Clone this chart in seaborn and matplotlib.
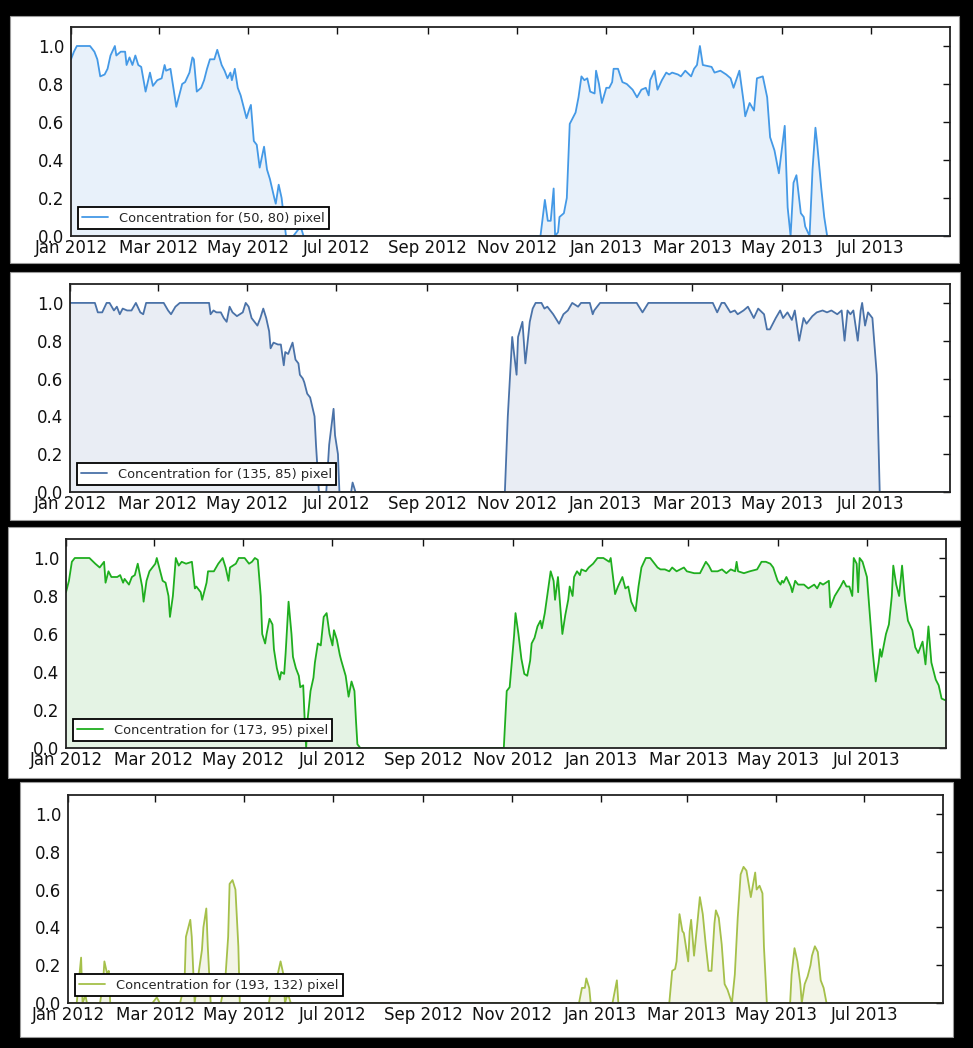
import pandas as pd
import matplotlib
matplotlib.use("Agg")
import matplotlib.pyplot as plt
import matplotlib.dates as mdates
from matplotlib.patches import Rectangle
import seaborn as sns

start = pd.Timestamp("2012-01-01")
end_day = 601

# days since 2012-01-01 and concentration
days_1 = [0, 2, 4, 13, 16, 18, 20, 23, 25, 27,
          30, 31, 34, 37, 38, 40, 42, 44, 46, 48,
          51, 54, 56, 59, 62, 64, 65, 68, 72, 76,
          78, 81, 83, 84, 86, 89, 91, 93, 95, 98,
          100, 103, 105, 107, 109, 110, 112, 114, 116, 118,
          120, 122, 123, 125, 127, 129, 132, 134, 136, 139,
          140, 142, 144, 147, 152, 157, 159,
          321, 324, 326,
          328, 330, 331, 333, 334, 337, 339, 341, 343, 345,
          347, 349, 351, 353, 355, 358, 359, 361, 363, 366,
          368, 370, 371, 374, 377, 380, 384, 387, 390, 393,
          395, 396, 399, 401, 404, 407, 409, 411, 415, 417,
          420, 424, 426, 428, 430, 432, 438, 440, 444, 448,
          451, 453, 457, 460, 461, 464, 467, 469, 473, 476,
          478, 481, 484, 488, 490, 492, 494, 496, 499, 501,
          502, 505, 507, 509, 510, 513, 515, 517, 601]
conc_1 = [0.93, 0.97, 1.0, 1.0, 0.97, 0.93, 0.84, 0.85, 0.88, 0.95,
          1.0, 0.95, 0.97, 0.97, 0.9, 0.94, 0.9, 0.95, 0.9, 0.89,
          0.76, 0.86, 0.79, 0.82, 0.83, 0.9, 0.87, 0.88, 0.68, 0.8,
          0.81, 0.86, 0.94, 0.93, 0.76, 0.78, 0.82, 0.88, 0.93, 0.93,
          0.98, 0.9, 0.87, 0.83, 0.86, 0.82, 0.88, 0.78, 0.74, 0.68,
          0.62, 0.67, 0.69, 0.5, 0.48, 0.36, 0.47, 0.35, 0.3, 0.2,
          0.17, 0.27, 0.2, 0.0, 0.0, 0.05, 0.0,
          0.0, 0.19, 0.08,
          0.08, 0.25, 0.0, 0.02, 0.1, 0.12, 0.2, 0.59, 0.62, 0.65,
          0.73, 0.84, 0.82, 0.83, 0.76, 0.75, 0.87, 0.8, 0.7, 0.78,
          0.78, 0.81, 0.88, 0.88, 0.81, 0.8, 0.77, 0.73, 0.77, 0.78,
          0.74, 0.82, 0.87, 0.77, 0.82, 0.86, 0.85, 0.86, 0.85, 0.84,
          0.87, 0.84, 0.88, 0.9, 1.0, 0.9, 0.89, 0.86, 0.87, 0.85,
          0.83, 0.78, 0.87, 0.7, 0.63, 0.7, 0.66, 0.83, 0.84, 0.73,
          0.52, 0.45, 0.33, 0.58, 0.15, 0.0, 0.28, 0.32, 0.12, 0.1,
          0.05, 0.0, 0.35, 0.57, 0.5, 0.25, 0.1, 0.0, 0.0]

days_2 = [0, 17, 19, 22, 25, 27, 30, 32, 34, 36,
          39, 42, 45, 48, 50, 52, 64, 67, 69, 72,
          75, 95, 96, 98, 100, 103, 105, 107, 109, 111,
          114, 118, 120, 122, 124, 128, 130, 132, 134, 136,
          137, 139, 142, 144, 146, 147, 149, 152, 154, 156,
          157, 159, 160, 162, 164, 167, 168, 170, 175, 177,
          180, 181, 183, 184, 192, 193, 195, 297, 299, 302,
          303, 305, 306, 309, 311, 314, 316, 318, 322, 324,
          326, 330, 334, 337, 340, 343, 347, 349, 355, 357,
          358, 362, 387, 391, 395,
          439, 442, 445, 447, 451, 454, 456, 460, 463, 467,
          470, 474, 476, 478, 482, 485, 487, 490, 493, 495,
          498, 501, 503, 507, 510, 514, 517, 520, 524, 527,
          529, 531, 533, 535, 538, 540, 541, 543, 545, 548,
          551, 553, 601]
conc_2 = [1.0, 1.0, 0.95, 0.95, 1.0, 1.0, 0.96, 0.98, 0.94, 0.97,
          0.96, 0.96, 1.0, 0.95, 0.94, 1.0, 1.0, 0.96, 0.94, 0.98,
          1.0, 1.0, 0.94, 0.96, 0.95, 0.95, 0.92, 0.9, 0.98, 0.95,
          0.93, 0.95, 1.0, 0.98, 0.92, 0.88, 0.92, 0.97, 0.92, 0.85,
          0.76, 0.79, 0.78, 0.78, 0.67, 0.74, 0.73, 0.79, 0.7, 0.68,
          0.62, 0.6, 0.58, 0.52, 0.5, 0.4, 0.25, 0.0, 0.0, 0.25,
          0.44, 0.3, 0.2, 0.0, 0.0, 0.05, 0.0, 0.0, 0.4, 0.82,
          0.75, 0.62, 0.82, 0.9, 0.68, 0.9, 0.97, 1.0, 1.0, 0.97,
          0.98, 0.94, 0.89, 0.94, 0.96, 1.0, 0.98, 1.0, 1.0, 0.94,
          0.96, 1.0, 1.0, 0.95, 1.0,
          1.0, 0.95, 1.0, 1.0, 0.95, 0.96, 0.94, 0.96, 0.98, 0.92,
          0.97, 0.94, 0.86, 0.86, 0.92, 0.96, 0.92, 0.95, 0.91, 0.96,
          0.8, 0.92, 0.89, 0.93, 0.95, 0.96, 0.95, 0.96, 0.94, 0.96,
          0.8, 0.96, 0.94, 0.96, 0.8, 0.96, 1.0, 0.88, 0.95, 0.92,
          0.62, 0.0, 0.0]

days_3 = [0, 2, 4, 6, 16, 20, 23, 26, 27, 29,
          31, 35, 37, 39, 40, 43, 45, 47, 49, 52,
          53, 55, 57, 61, 62, 64, 66, 68, 70, 71,
          73, 75, 77, 79, 82, 86, 88, 89, 92, 93,
          96, 97, 101, 104, 107, 109, 111, 112, 116, 118,
          122, 125, 127, 129, 131, 133, 134, 136, 137, 139,
          141, 142, 144, 146, 147, 149, 150, 152, 154, 155,
          157, 159, 160, 162, 163, 164, 165, 167, 169, 170,
          172, 174, 176, 178, 180, 182, 183, 185, 187, 188,
          191, 193, 195, 197, 198, 199, 201,
          299, 301, 303, 306, 307, 309, 311, 313, 315, 317,
          318, 320, 322, 324, 325, 327, 331, 333, 334, 336,
          337, 339, 341, 343, 344, 346, 347, 349, 351, 352,
          355, 357, 360, 363, 367, 371, 372, 375, 377, 380,
          382, 384, 386, 389, 391, 393, 396, 399, 401, 404,
          406, 409, 412, 414, 417, 422, 424, 429, 433, 437,
          439, 441, 445, 448, 451, 454, 457, 458, 459, 463,
          467, 472, 475, 478, 481, 483, 486, 488, 489, 490,
          492, 495, 496, 498, 500, 504, 507, 511, 513, 515,
          517, 521, 522, 525, 529, 531, 533, 535, 537, 538,
          540, 541, 542, 544, 547, 549, 551, 553, 555, 556,
          557, 560, 562, 564, 565, 567, 569, 571, 573, 575,
          578, 580, 582, 585, 587, 589, 591, 594, 596, 598,
          601]
conc_3 = [0.82, 0.88, 0.98, 1.0, 1.0, 0.97, 0.95, 0.98, 0.87, 0.93,
          0.9, 0.9, 0.91, 0.87, 0.89, 0.86, 0.9, 0.91, 0.97, 0.85,
          0.77, 0.88, 0.93, 0.97, 1.0, 0.94, 0.88, 0.87, 0.8, 0.69,
          0.8, 1.0, 0.96, 0.98, 0.97, 0.98, 0.84, 0.85, 0.82, 0.78,
          0.87, 0.93, 0.93, 0.97, 1.0, 0.95, 0.88, 0.95, 0.97, 1.0,
          1.0, 0.97, 0.98, 1.0, 0.99, 0.8, 0.6, 0.55, 0.6, 0.68,
          0.65, 0.52, 0.42, 0.36, 0.4, 0.39, 0.5, 0.77, 0.6, 0.48,
          0.42, 0.38, 0.32, 0.33, 0.15, 0.0, 0.15, 0.3, 0.37, 0.45,
          0.55, 0.54, 0.69, 0.71, 0.6, 0.54, 0.62, 0.57, 0.49, 0.46,
          0.38, 0.27, 0.35, 0.3, 0.15, 0.02, 0.0,
          0.0, 0.3, 0.32, 0.59, 0.71, 0.6, 0.47, 0.39, 0.38, 0.46,
          0.55, 0.58, 0.64, 0.67, 0.63, 0.71, 0.93, 0.88, 0.78, 0.9,
          0.8, 0.6, 0.7, 0.78, 0.85, 0.8, 0.9, 0.93, 0.91, 0.94,
          0.93, 0.95, 0.97, 1.0, 1.0, 0.98, 1.0, 0.81, 0.85, 0.9,
          0.84, 0.85, 0.77, 0.72, 0.85, 0.95, 1.0, 1.0, 0.98, 0.95,
          0.94, 0.94, 0.93, 0.95, 0.93, 0.95, 0.93, 0.92, 0.92, 0.98,
          0.96, 0.93, 0.93, 0.94, 0.92, 0.94, 0.93, 0.98, 0.93, 0.92,
          0.93, 0.94, 0.98, 0.98, 0.97, 0.95, 0.88, 0.86, 0.88, 0.87,
          0.9, 0.85, 0.82, 0.88, 0.86, 0.86, 0.84, 0.86, 0.84, 0.87,
          0.86, 0.88, 0.74, 0.8, 0.85, 0.88, 0.85, 0.85, 0.8, 1.0,
          0.97, 0.82, 1.0, 0.98, 0.9, 0.7, 0.5, 0.35, 0.45, 0.52,
          0.48, 0.6, 0.65, 0.8, 0.96, 0.86, 0.8, 0.96, 0.78, 0.67,
          0.62, 0.53, 0.5, 0.56, 0.44, 0.64, 0.45, 0.36, 0.33, 0.26,
          0.25]

days_4 = [0, 6, 9, 10, 12, 13, 22, 24, 25, 27,
          28, 29, 58, 61, 63, 77, 80, 81, 84, 85,
          87, 89, 92, 93, 95, 96, 98, 105, 108, 110,
          111, 113, 115, 117, 118, 138, 140, 142, 144, 146,
          148, 149, 151, 153,
          351, 353, 355, 356, 358, 359, 374, 377, 378, 413,
          415, 417, 418, 420, 422, 423, 426, 427, 428, 430,
          432, 434, 436, 438, 440, 442, 444, 445, 447, 449,
          451, 453, 456, 458, 460, 462, 464, 466, 469, 472,
          473, 475, 477, 478, 480, 496, 497, 499, 501, 503,
          504, 506, 508, 510, 511, 513, 515, 517, 519, 521,
          601]
conc_4 = [0.0, 0.0, 0.24, 0.0, 0.04, 0.0, 0.0, 0.1, 0.22, 0.15,
          0.17, 0.0, 0.0, 0.03, 0.0, 0.0, 0.1, 0.35, 0.44, 0.35,
          0.0, 0.12, 0.28, 0.4, 0.5, 0.3, 0.0, 0.0, 0.12, 0.35,
          0.63, 0.65, 0.6, 0.3, 0.0, 0.0, 0.1, 0.05, 0.15, 0.22,
          0.15, 0.0, 0.05, 0.0,
          0.0, 0.08, 0.08, 0.13, 0.08, 0.0, 0.0, 0.12, 0.0, 0.0,
          0.17, 0.18, 0.22, 0.47, 0.38, 0.37, 0.22, 0.38, 0.44, 0.25,
          0.4, 0.56, 0.47, 0.31, 0.17, 0.17, 0.42, 0.49, 0.45, 0.31,
          0.1, 0.07, 0.0, 0.15, 0.45, 0.68, 0.72, 0.7, 0.56, 0.69,
          0.6, 0.62, 0.58, 0.3, 0.0, 0.0, 0.15, 0.29, 0.22, 0.1,
          0.0, 0.1, 0.14, 0.2, 0.25, 0.3, 0.27, 0.12, 0.08, 0.0,
          0.0]

pixels = ["(50, 80)", "(135, 85)", "(173, 95)", "(193, 132)"]
line_colors = ["#4499e6", "#4a72a8", "#1fae1f", "#a5c04a"]
fill_colors = ["#e8f1fa", "#e9edf4", "#e4f3e4", "#f3f5e8"]

sns.set_style("white")
plt.rcParams["font.family"] = ["DejaVu Sans"]

W, H = 973, 1048
fig = plt.figure(figsize=(W / 100, H / 100), dpi=100, facecolor="black")

# white cards and axes boxes, in pixels: left, top, right, bottom
cards = [(10, 16, 959, 263), (10, 272, 960, 520), (8, 527, 960, 778), (20, 782, 953, 1037)]
boxes = [(71, 27, 950, 236), (70, 284, 950, 492), (66, 539, 946, 748), (68, 795, 943, 1003)]

for l, t, r, b in cards:
    fig.add_artist(Rectangle((l / W, 1 - b / H), (r - l) / W, (b - t) / H,
                             transform=fig.transFigure, facecolor="white",
                             edgecolor="#9a9a9a", lw=0.8, zorder=-5))

series = [(days_1, conc_1), (days_2, conc_2), (days_3, conc_3), (days_4, conc_4)]

for i, (days, conc) in enumerate(series):
    l, t, r, b = boxes[i]
    ax = fig.add_axes([l / W, 1 - b / H, (r - l) / W, (b - t) / H], zorder=2)
    df = pd.DataFrame({"date": start + pd.to_timedelta(days, unit="D"), "conc": conc})
    ax.fill_between(df["date"], 0, df["conc"], color=fill_colors[i], lw=0, zorder=1)
    sns.lineplot(data=df, x="date", y="conc", ax=ax, color=line_colors[i], lw=1.3,
                 label="Concentration for %s pixel" % pixels[i], zorder=2)
    ax.set_xlim(start, start + pd.Timedelta(days=end_day))
    ax.set_ylim(0, 1.1)
    ax.set_yticks([0, 0.2, 0.4, 0.6, 0.8, 1.0])
    ax.xaxis.set_major_locator(mdates.MonthLocator(bymonth=[1, 3, 5, 7, 9, 11]))
    ax.xaxis.set_major_formatter(mdates.DateFormatter("%b %Y"))
    ax.set_xlabel("")
    ax.set_ylabel("")
    ax.tick_params(direction="in", top=True, right=True, length=5, width=1,
                   labelsize=12, colors="#111111")
    ax.tick_params(axis="x", pad=2)
    ax.tick_params(axis="y", pad=5)
    for s in ax.spines.values():
        s.set_color("#222222")
        s.set_linewidth(1.3)
    leg = ax.legend(loc="lower left", fontsize=9.4, frameon=True, fancybox=False,
                    framealpha=1, edgecolor="black", borderaxespad=0.5,
                    handlelength=2.0, borderpad=0.35)
    leg.get_frame().set_linewidth(1.3)

fig.savefig("out.png", dpi=100, facecolor="black")
